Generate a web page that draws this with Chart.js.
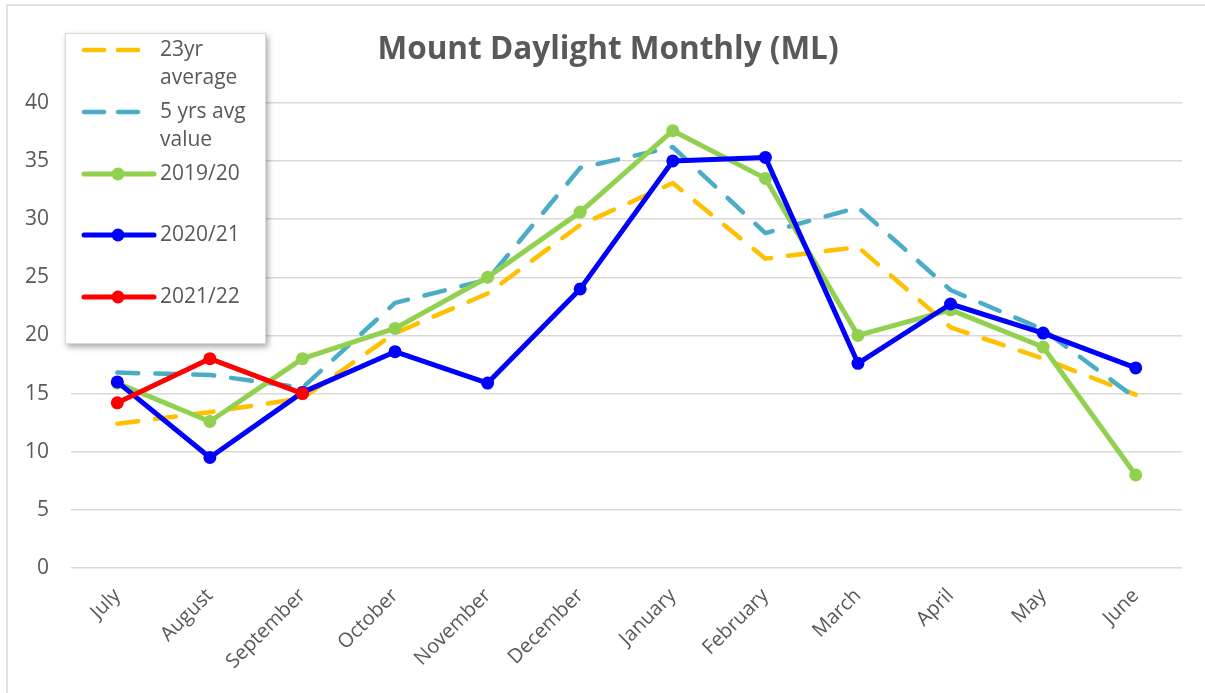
<!DOCTYPE html>
<html>
<head>
<meta charset="utf-8">
<script src="https://cdn.jsdelivr.net/npm/chart.js@4/dist/chart.umd.min.js"></script>
<style>
    html, body { margin: 0; padding: 0; background: #fff; }
    #wrap { width: 1205px; height: 693px; position: relative; }
</style>
</head>
<body>
<div id="wrap"><canvas id="chart" width="1205" height="693"></canvas></div>
<script>
const months = ['July', 'August', 'September', 'October', 'November', 'December',
    'January', 'February', 'March', 'April', 'May', 'June'];

const avg23yr = [12.4, 13.4, 14.6, 20.2, 23.6, 29.5, 33.1, 26.6, 27.6, 20.7, 18.0, 14.9];
const avg5yrs = [16.8, 16.6, 15.5, 22.8, 24.8, 34.4, 36.2, 28.8, 31.0, 23.9, 20.5, 14.6];
const y2019 = [15.9, 12.6, 18.0, 20.6, 25.0, 30.6, 37.6, 33.5, 20.0, 22.2, 19.0, 8.0];
const y2020 = [16.0, 9.5, 15.1, 18.6, 15.9, 24.0, 35.0, 35.3, 17.6, 22.7, 20.2, 17.2];
const y2021 = [14.2, 18.0, 15.0, null, null, null, null, null, null, null, null, null];

const yTicks = [0, 5, 10, 15, 20, 25, 30, 35, 40];

const textColor = '#595959';
const fontFamily = '"Open Sans", "Liberation Sans", sans-serif';

function dashed(label, data, color, order) {
    return {
        label, data, order,
        borderColor: color,
        backgroundColor: color,
        borderWidth: 4.5,
        borderDash: [21, 17],
        borderCapStyle: 'round',
        borderJoinStyle: 'round',
        pointRadius: 0,
        pointHoverRadius: 0,
        tension: 0
    };
}

function solid(label, data, color, order) {
    return {
        label, data, order,
        borderColor: color,
        backgroundColor: color,
        borderWidth: 5,
        borderCapStyle: 'round',
        borderJoinStyle: 'round',
        pointRadius: 6.5,
        pointBorderWidth: 0,
        pointBackgroundColor: color,
        tension: 0,
        spanGaps: false
    };
}

const datasets = [
    dashed('23yr average', avg23yr, '#FFC000', 4),
    dashed('5 yrs avg value', avg5yrs, '#4BACC6', 3),
    solid('2019/20', y2019, '#92D050', 2),
    solid('2020/21', y2020, '#0000FF', 1),
    solid('2021/22', y2021, '#FF0000', 0)
];

// legend lines, split like the original text wrapping
const legendText = [['23yr', 'average'], ['5 yrs avg', 'value'], ['2019/20'], ['2020/21'], ['2021/22']];
const legendRows = [50, 112, 174, 235, 297];

const frame = {
    id: 'frame',
    beforeDraw(chart) {
        const ctx = chart.ctx;
        ctx.save();
        ctx.fillStyle = '#fff';
        ctx.fillRect(0, 0, chart.width, chart.height);
        ctx.strokeStyle = '#d9d9d9';
        ctx.lineWidth = 1.5;
        ctx.beginPath();
        ctx.moveTo(7, chart.height);
        ctx.lineTo(7, 5);
        ctx.lineTo(chart.width, 5);
        ctx.stroke();
        ctx.restore();
    }
};

const boxLegend = {
    id: 'boxLegend',
    afterDraw(chart) {
        const ctx = chart.ctx;
        ctx.save();
        ctx.shadowColor = 'rgba(0,0,0,0.35)';
        ctx.shadowBlur = 6;
        ctx.shadowOffsetX = 2;
        ctx.shadowOffsetY = 3;
        ctx.fillStyle = '#fff';
        ctx.fillRect(65, 33, 201, 311);
        ctx.restore();

        ctx.save();
        ctx.strokeStyle = '#d9d9d9';
        ctx.lineWidth = 1;
        ctx.strokeRect(65.5, 33.5, 200, 310);

        datasets.forEach((ds, i) => {
            const y = legendRows[i];
            ctx.strokeStyle = ds.borderColor;
            ctx.lineWidth = ds.borderWidth;
            ctx.lineCap = 'round';
            ctx.setLineDash(ds.borderDash ? [20, 14] : []);
            ctx.beginPath();
            ctx.moveTo(84, y);
            ctx.lineTo(ds.borderDash ? 150 : 154, y);
            ctx.stroke();
            ctx.setLineDash([]);
            if (ds.pointRadius) {
                ctx.fillStyle = ds.borderColor;
                ctx.beginPath();
                ctx.arc(118, y, ds.pointRadius, 0, Math.PI * 2);
                ctx.fill();
            }
            ctx.fillStyle = textColor;
            ctx.font = '21px ' + fontFamily;
            ctx.textBaseline = 'middle';
            ctx.textAlign = 'left';
            legendText[i].forEach((t, k) => ctx.fillText(t, 160, y + k * 28));
        });
        ctx.restore();
    }
};

new Chart(document.getElementById('chart'), {
    type: 'line',
    data: { labels: months, datasets },
    plugins: [frame, boxLegend],
    options: {
        responsive: false,
        animation: false,
        layout: { padding: { left: 11, right: 0, top: 0, bottom: 0 } },
        plugins: {
            legend: { display: false },
            tooltip: { enabled: false },
            title: {
                display: true,
                text: 'Mount Daylight Monthly (ML)',
                color: textColor,
                font: { family: fontFamily, size: 31.5, weight: 'bold' },
                padding: { top: 31, bottom: 34 }
            }
        },
        scales: {
            x: {
                offset: true,
                grid: { display: false },
                border: { display: false },
                ticks: {
                    color: textColor,
                    font: { family: fontFamily, size: 20 },
                    minRotation: 45,
                    maxRotation: 45,
                    padding: 8
                },
                afterFit(s) { s.height = 125; }
            },
            y: {
                min: 0,
                max: 40,
                afterBuildTicks(s) { s.ticks = yTicks.map(v => ({ value: v })); },
                grid: { color: '#d9d9d9', lineWidth: 1.5, drawTicks: false },
                border: { display: false },
                ticks: {
                    color: textColor,
                    font: { family: fontFamily, size: 21 },
                    padding: 22
                },
                afterFit(s) { s.width = 60; }
            },
            // empty right-hand strip so the title centres on the whole picture
            yRight: {
                position: 'right',
                min: 0,
                max: 40,
                grid: { display: false },
                border: { display: false },
                ticks: { display: false },
                afterFit(s) { s.width = 23; }
            }
        }
    }
});
</script>
</body>
</html>
